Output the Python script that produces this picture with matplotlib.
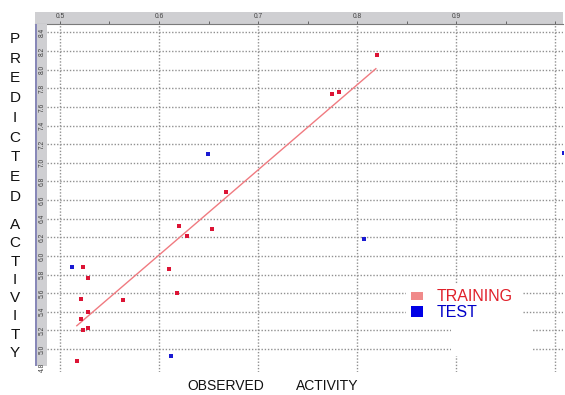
import matplotlib
matplotlib.use("Agg")
import matplotlib.pyplot as plt
from matplotlib.patches import Rectangle
import numpy as np

# ---- data ----
train_x = [0.820, 0.775, 0.782, 0.668, 0.654, 0.620, 0.628, 0.610, 0.618, 0.564,
           0.523, 0.528, 0.521, 0.528, 0.521, 0.528, 0.523, 0.517]
train_y = [8.16, 7.74, 7.76, 6.69, 6.29, 6.32, 6.21, 5.86, 5.60, 5.53,
           5.88, 5.76, 5.54, 5.40, 5.32, 5.23, 5.20, 4.87]
test_x = [0.512, 0.612, 0.649, 0.807, 1.009]
test_y = [5.88, 4.92, 7.09, 6.18, 7.11]
fit_x = [0.517, 0.819]
fit_y = [5.25, 8.01]
x_ticks = [0.5, 0.6, 0.7, 0.8, 0.9, 1.0]
x_tick_labels = ["0.5", "0.6", "0.7", "0.8", "0.9", ""]
y_ticks = [4.8, 5.0, 5.2, 5.4, 5.6, 5.8, 6.0, 6.2, 6.4, 6.6, 6.8, 7.0, 7.2, 7.4, 7.6, 7.8, 8.0, 8.2, 8.4]
y_tick_labels = ["4.8", "5.0", "5.2", "5.4", "5.6", "5.8", "6.0", "6.2", "6.4", "6.6",
                 "6.8", "7.0", "7.2", "7.4", "7.6", "7.8", "8.0", "8.2", "8.4"]
y_grid = [v for v in y_ticks if v >= 5.0]
legend_labels = ["TRAINING", "TEST"]

plt.rcParams['font.family'] = ['Liberation Sans', 'DejaVu Sans']

W, H = 565, 395
fig = plt.figure(figsize=(W / 100, H / 100), dpi=100)

def box(x0, y0, x1, y1):
    return [x0 / W, 1 - y1 / H, (x1 - x0) / W, (y1 - y0) / H]

XL = (0.4869, 1.008)
YL = (4.753, 8.49)

ax = fig.add_axes(box(47, 24, 563, 372))
ax.set_xlim(*XL)
ax.set_ylim(*YL)
for s in ax.spines.values():
    s.set_visible(False)
ax.set_xticks([])
ax.set_yticks([])

grid_kw = dict(color='#909090', lw=1.0, ls=(0, (1, 1.3)), zorder=1)
for gx in x_ticks:
    ax.axvline(gx, **grid_kw)
for gy in y_grid:
    ax.axhline(gy, **grid_kw)

def ax_rect(x0, y0, x1, y1):
    # pixel box -> axes coords
    ax_x0, ax_y0, ax_w, ax_h = 47, 24, 516, 348
    return Rectangle(((x0 - ax_x0) / ax_w, 1 - (y1 - ax_y0) / ax_h),
                     (x1 - x0) / ax_w, (y1 - y0) / ax_h,
                     transform=ax.transAxes, facecolor='white', edgecolor='none', zorder=2)
ax.add_patch(ax_rect(406, 284, 523, 320))
ax.add_patch(ax_rect(451, 320, 533, 356))

ax.plot(fit_x, fit_y, color='#f07a80', lw=1.0, zorder=3)
ax.scatter(train_x, train_y, marker='s', s=5.5, color='#dc1435', linewidths=0, zorder=4)
ax.scatter(test_x, test_y, marker='s', s=5.5, color='#1a1ad2', linewidths=0, zorder=4)

# legend
fig.patches.append(Rectangle((411 / W, 1 - 300 / H), 12 / W, 8 / H, transform=fig.transFigure,
                             facecolor='#f08a8a', edgecolor='none', zorder=5))
fig.patches.append(Rectangle((411 / W, 1 - 317 / H), 12 / W, 11 / H, transform=fig.transFigure,
                             facecolor='#0000e6', edgecolor='none', zorder=5))
fig.text(437 / W, 1 - 296.5 / H, legend_labels[0], color='#e0202a', fontsize=11.5,
         va='center', ha='left')
fig.text(437 / W, 1 - 312.5 / H, legend_labels[1], color='#0000c8', fontsize=11.5,
         va='center', ha='left')

# top strip
axt = fig.add_axes(box(35, 12, 563, 24))
axt.set_xlim(XL[0] - (47 - 35) / 990, XL[1])
axt.set_ylim(0, 1)
axt.set_facecolor('#cfcfd2')
for s in axt.spines.values():
    s.set_visible(False)
axt.spines['bottom'].set_visible(True)
axt.spines['bottom'].set_color('#7a7a7a')
axt.set_xticks(x_ticks)
axt.set_xticks([v + 0.05 for v in x_ticks[:-1]], minor=True)
axt.set_xticklabels([])
axt.tick_params(axis='x', which='both', direction='in', length=2, color='#555555', width=0.6)
axt.set_yticks([])
for xv, lab in zip(x_ticks, x_tick_labels):
    axt.text(xv, 0.6, lab, fontsize=4.8, color='#404040', ha='center', va='center')

# left strip
axl = fig.add_axes(box(35, 24, 47, 366))
axl.set_ylim(YL[0] + (372 - 366) / 93.1, YL[1])
axl.set_xlim(0, 1)
axl.set_facecolor('#cfcfd2')
for s in axl.spines.values():
    s.set_visible(False)
axl.set_xticks([])
axl.set_yticks([])
axl.add_patch(Rectangle((0, 0), 0.2, 1, transform=axl.transAxes, facecolor='#8888b8',
                        edgecolor='none'))
for yv, lab in zip(y_ticks, y_tick_labels):
    if YL[0] < yv < YL[1]:
        axl.text(0.6, yv, lab, fontsize=4.8, color='#404040', rotation=90,
                 ha='center', va='center')

# axis titles
fig.text(226 / W, 1 - 386 / H, "OBSERVED", fontsize=10, ha='center', va='center', color='#111111')
fig.text(327 / W, 1 - 386 / H, "ACTIVITY", fontsize=10, ha='center', va='center', color='#111111')
for i, ch in enumerate("PREDICTED"):
    fig.text(15 / W, 1 - (39 + i * 19.7) / H, ch, fontsize=11, ha='center', va='center', color='#111111')
for i, ch in enumerate("ACTIVITY"):
    fig.text(15 / W, 1 - (225 + i * 18.3) / H, ch, fontsize=11, ha='center', va='center', color='#111111')

fig.savefig("out.png", dpi=100)
